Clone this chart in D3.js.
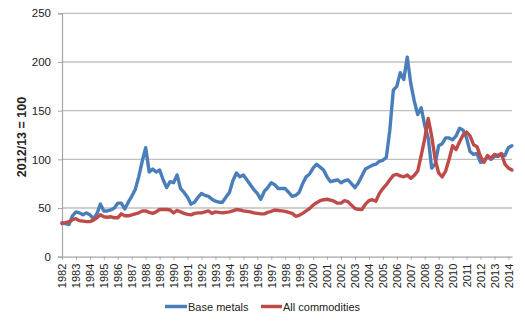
<!DOCTYPE html>
<html>
<head>
<meta charset="utf-8">
<script src="https://cdn.jsdelivr.net/npm/d3@7/dist/d3.min.js"></script>
<style>
  body { margin: 0; background: #fff; }
  svg { display: block; }
  text { font-family: "Liberation Sans", Arial, sans-serif; fill: #222; }
</style>
</head>
<body>
<svg id="chart" width="525" height="325"></svg>
<script>
// ---- data (quarterly observations starting Q1 1982) ----
const startYear = 1982;
const stepYears = 0.25;
const endYear = 2014.258;

const yearLabels = ["1982","1983","1984","1985","1986","1987","1988","1989","1990","1991",
  "1992","1993","1994","1995","1996","1997","1998","1999","2000","2001","2002","2003",
  "2004","2005","2006","2007","2008","2009","2010","2011","2012","2013","2014"];

const yTicks = [0, 50, 100, 150, 200, 250];

const seriesNames = ["Base metals", "All commodities"];
const seriesColors = ["#4A7EBB", "#BE4B48"];

const baseMetals = [
  35, 34, 33, 42, 46, 45, 43, 45, 43, 39, 44, 54, 47, 47, 48, 50,
  55, 55, 49, 56, 62, 69, 82, 98, 112, 87, 90, 87, 89, 79, 71, 77,
  76, 84, 70, 66, 61, 54, 56, 61, 65, 63, 62, 59, 57, 56, 56, 61,
  66, 78, 86, 82, 84, 79, 74, 69, 65, 59, 67, 71, 76, 74, 70, 70,
  70, 66, 62, 63, 66, 75, 82, 85, 91, 95, 92, 89, 82, 77, 78, 79,
  76, 78, 79, 75, 71, 76, 83, 90, 92, 94, 95, 98, 99, 102, 130, 171,
  175, 189, 182, 205, 178, 160, 146, 153, 135, 122, 91, 95, 114, 116, 122, 122,
  120, 124, 132, 130, 122, 108, 105, 106, 97, 98, 103, 100, 103, 103, 105, 104,
  112, 114
];

const allCommodities = [
  34, 35, 36, 38, 39, 37, 36.5, 36, 36, 37.5, 40, 43, 41, 40.5, 41, 40,
  40, 44, 42, 42, 43, 44, 45, 47, 47, 45.5, 44.5, 46, 48.5, 48.5, 48.5, 48,
  45, 47.5, 46, 44.5, 43.5, 43, 44.5, 45, 45, 46, 47, 44.5, 46, 45.5, 45, 45.5,
  46, 47, 48.5, 48, 47, 46.5, 46, 45, 44.5, 44, 44, 45.5, 46.5, 48, 47.5, 47,
  46.5, 45.5, 44.5, 41.5, 42.5, 44.5, 47, 49.5, 53, 55.5, 57.5, 58.5, 59, 58, 57, 55,
  55, 57.5, 56.5, 53, 49.5, 48.7, 48.5, 54, 57.5, 58.5, 57, 65, 70, 74, 79, 83.5,
  84.5, 83, 82, 84, 80.5, 83.5, 88, 104, 121, 142, 124, 100, 86, 82, 88, 100,
  114, 110, 118, 125, 128, 124, 115, 113, 103, 97, 104, 101, 105, 104, 106, 95,
  91, 89
];

// ---- layout ----
const svg = d3.select("#chart");
const plot = { left: 62, right: 512, top: 13.3, bottom: 256.7 };

const x = d3.scaleLinear().domain([startYear, endYear]).range([plot.left, plot.right]);
const y = d3.scaleLinear().domain([0, 250]).range([plot.bottom, plot.top]);

// gridlines
svg.append("g")
  .selectAll("line")
  .data(yTicks.filter(d => d > 0))
  .join("line")
  .attr("x1", plot.left).attr("x2", plot.right)
  .attr("y1", d => y(d)).attr("y2", d => y(d))
  .attr("stroke", "#c0c0c0").attr("stroke-width", 1.3);

// y axis
const yAxis = d3.axisLeft(y).tickValues(yTicks).tickSize(4).tickPadding(7);
const gy = svg.append("g").attr("transform", `translate(${plot.left},0)`).call(yAxis);
gy.select(".domain").attr("stroke", "#a6a6a6").attr("stroke-width", 1.2);
gy.selectAll(".tick line").attr("stroke", "#a6a6a6");
gy.selectAll(".tick text").attr("font-size", 11.5).attr("fill", "#222")
  .attr("font-family", '"Liberation Sans", Arial, sans-serif');

// x axis
const xAxis = d3.axisBottom(x)
  .tickValues(yearLabels.map(Number))
  .tickFormat((d, i) => yearLabels[i])
  .tickSize(3).tickSizeOuter(0);
const gx = svg.append("g").attr("transform", `translate(0,${plot.bottom})`).call(xAxis);
gx.select(".domain").attr("stroke", "#a6a6a6").attr("stroke-width", 1.2);
gx.selectAll(".tick line").attr("stroke", "#a6a6a6");
gx.selectAll(".tick text")
  .attr("font-size", 11).attr("fill", "#222")
  .attr("font-family", '"Liberation Sans", Arial, sans-serif')
  .attr("text-anchor", "end")
  .attr("transform", "rotate(-90)")
  .attr("x", -7).attr("y", 0).attr("dy", "0.35em");

// y axis title
svg.append("text")
  .attr("transform", `translate(26,${(plot.top + plot.bottom) / 2 + 2}) rotate(-90)`)
  .attr("text-anchor", "middle")
  .attr("font-size", 12.5).attr("font-weight", "bold")
  .text("2012/13 = 100");

// lines
const series = [baseMetals, allCommodities];
const line = d3.line()
  .x((d, i) => x(startYear + i * stepYears))
  .y(d => y(d));

svg.append("g")
  .selectAll("path")
  .data(series)
  .join("path")
  .attr("d", d => line(d))
  .attr("fill", "none")
  .attr("stroke", (d, i) => seriesColors[i])
  .attr("stroke-width", 3.4)
  .attr("stroke-linejoin", "round")
  .attr("stroke-linecap", "round");

// legend
const legendItems = [
  { name: seriesNames[0], color: seriesColors[0], x0: 165, x1: 187, tx: 188 },
  { name: seriesNames[1], color: seriesColors[1], x0: 261, x1: 282, tx: 283 }
];
const lg = svg.append("g");
legendItems.forEach(it => {
  lg.append("line")
    .attr("x1", it.x0).attr("x2", it.x1)
    .attr("y1", 306.5).attr("y2", 306.5)
    .attr("stroke", it.color).attr("stroke-width", 3.5);
  lg.append("text")
    .attr("x", it.tx).attr("y", 310.5)
    .attr("font-size", 11)
    .text(it.name);
});
</script>
</body>
</html>
